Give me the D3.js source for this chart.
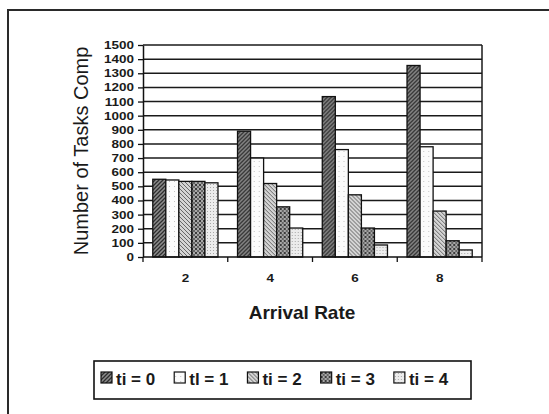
<!DOCTYPE html>
<html><head><meta charset="utf-8">
<script src="https://cdn.jsdelivr.net/npm/d3@7"></script>
<style>
html,body{margin:0;padding:0;background:#fff;overflow:hidden}
svg{display:block;overflow:hidden}
text{font-family:"Liberation Sans",Arial,sans-serif;fill:#1a1a1a}
</style>
</head><body>
<svg id="chart" width="549" height="414"></svg>
<script>
// Tasks completed per arrival rate, one series per ti setting
const categories = ["2", "4", "6", "8"];
const seriesNames = ["ti = 0", "tl = 1", "ti = 2", "ti = 3", "ti = 4"];
const ti0 = [550, 890, 1135, 1355];
const ti1 = [545, 700, 760, 780];
const ti2 = [535, 520, 440, 325];
const ti3 = [535, 355, 205, 115];
const ti4 = [525, 205, 85, 50];
const yTickValues = d3.range(0, 1501, 100);

const seriesValues = [ti0, ti1, ti2, ti3, ti4];
const W = 549, H = 414;
const svg = d3.select("#chart");

// fill patterns for the five series
const defs = svg.append("defs");
function pattern(id, size, base, draw) {
  const p = defs.append("pattern").attr("id", id).attr("patternUnits", "userSpaceOnUse")
    .attr("width", size).attr("height", size);
  p.append("rect").attr("width", size).attr("height", size).attr("fill", base);
  draw(p);
}
pattern("p0", 4, "#8c8c8c", p => {
  p.append("path").attr("d", "M0,4 L4,0 M-1,1 L1,-1 M3,5 L5,3").attr("stroke", "#2e2e2e").attr("stroke-width", 1.3);
});
pattern("p1", 5, "#fbfbfb", p => {
  p.append("rect").attr("x", 1).attr("y", 1).attr("width", 1).attr("height", 1).attr("fill", "#c4c4c4");
});
pattern("p2", 4, "#d4d4d4", p => {
  p.append("path").attr("d", "M0,0 L4,4 M3,-1 L5,1 M-1,3 L1,5").attr("stroke", "#5a5a5a").attr("stroke-width", 0.9);
});
pattern("p3", 4, "#a8a8a8", p => {
  p.append("rect").attr("x", 0).attr("y", 0).attr("width", 2).attr("height", 2).attr("fill", "#3c3c3c");
  p.append("rect").attr("x", 2).attr("y", 2).attr("width", 2).attr("height", 2).attr("fill", "#666");
});
pattern("p4", 3, "#ececec", p => {
  p.append("rect").attr("x", 1).attr("y", 1).attr("width", 1).attr("height", 1).attr("fill", "#a8a8a8");
});
const fills = ["url(#p0)", "url(#p1)", "url(#p2)", "url(#p3)", "url(#p4)"];

// chart frame: only its left and top edges fall inside the page
svg.append("path").attr("d", `M8,${H + 5} V10 H${W + 5}`)
  .attr("fill", "none").attr("stroke", "#2a2a2a").attr("stroke-width", 2);

const plot = { left: 143, right: 482, top: 45, bottom: 257 };

const x = d3.scaleBand().domain(categories).range([plot.left, plot.right]).padding(0);
const xInner = d3.scaleBand().domain(d3.range(seriesNames.length))
  .range([0, x.bandwidth()]).paddingInner(0).paddingOuter(0.75);
const y = d3.scaleLinear().domain([0, 1500]).range([plot.bottom, plot.top]);

// horizontal gridlines
svg.append("g").selectAll("line").data(yTickValues.filter(v => v > 0)).join("line")
  .attr("x1", plot.left).attr("x2", plot.right)
  .attr("y1", d => y(d)).attr("y2", d => y(d))
  .attr("stroke", "#1a1a1a").attr("stroke-width", 1.5);

// right edge of the plot area
svg.append("line").attr("x1", plot.right).attr("x2", plot.right)
  .attr("y1", plot.top).attr("y2", plot.bottom)
  .attr("stroke", "#1a1a1a").attr("stroke-width", 1.5);

// bars
const groups = svg.append("g").selectAll("g").data(categories).join("g")
  .attr("transform", d => `translate(${x(d)},0)`);
groups.selectAll("rect")
  .data((c, ci) => seriesValues.map((vals, si) => ({ si, v: vals[ci] })))
  .join("rect")
  .attr("x", d => xInner(d.si))
  .attr("width", xInner.bandwidth())
  .attr("y", d => y(d.v))
  .attr("height", d => y(0) - y(d.v))
  .attr("fill", d => fills[d.si])
  .attr("stroke", "#111").attr("stroke-width", 1.3);

// y axis
const yAxis = svg.append("g").attr("transform", `translate(${plot.left},0)`)
  .call(d3.axisLeft(y).tickValues(yTickValues).tickSize(5).tickSizeOuter(0).tickFormat(d3.format("d")));
yAxis.select(".domain").attr("stroke", "#111").attr("stroke-width", 1.5);
yAxis.selectAll(".tick line").attr("stroke", "#111").attr("stroke-width", 1.3);
yAxis.selectAll(".tick text")
  .attr("x", null).attr("dy", null)
  .attr("transform", "translate(-9,3.5) scale(1.35,1)")
  .style("font-family", "'Liberation Sans', Arial, sans-serif")
  .style("font-weight", "bold").style("font-size", "10px").attr("fill", "#1a1a1a");

// x axis: ticks on category boundaries, labels centred under each group
const xAxisG = svg.append("g");
xAxisG.append("line").attr("x1", plot.left).attr("x2", plot.right)
  .attr("y1", plot.bottom).attr("y2", plot.bottom).attr("stroke", "#111").attr("stroke-width", 1.5);
const boundaries = categories.map(c => x(c)).concat([plot.right]);
xAxisG.selectAll("line.tk").data(boundaries).join("line").attr("class", "tk")
  .attr("x1", d => d).attr("x2", d => d)
  .attr("y1", plot.bottom).attr("y2", plot.bottom + 5)
  .attr("stroke", "#111").attr("stroke-width", 1.3);
xAxisG.selectAll("text").data(categories).join("text")
  .attr("transform", d => `translate(${x(d) + x.bandwidth() / 2},282) scale(1.35,1)`)
  .attr("text-anchor", "middle").style("font-size", "10px").style("font-weight", "bold")
  .text(d => d);

// axis titles
svg.append("text").attr("x", 302).attr("y", 318.5).attr("text-anchor", "middle")
  .style("font-size", "19px").style("font-weight", "bold").text("Arrival Rate");
svg.append("text").attr("transform", "translate(88,151) rotate(-90)").attr("text-anchor", "middle")
  .style("font-size", "20px").text("Number of Tasks Comp");

// legend
const legendBox = { left: 94, top: 361, right: 471, bottom: 399 };
const legend = svg.append("g");
legend.append("rect").attr("x", legendBox.left).attr("y", legendBox.top)
  .attr("width", legendBox.right - legendBox.left).attr("height", legendBox.bottom - legendBox.top)
  .attr("fill", "#fff").attr("stroke", "#111").attr("stroke-width", 1.6);
const iconSize = 11, iconGap = 4, itemGap = 19, padLeft = 7;
const items = legend.selectAll("g").data(seriesNames).join("g");
items.append("text").attr("x", iconSize + iconGap).attr("y", 385)
  .style("font-size", "17px").style("font-weight", "bold").text(d => d);
const widths = [];
items.each(function () { widths.push(this.querySelector("text").getComputedTextLength() + iconSize + iconGap); });
let cursor = legendBox.left + padLeft;
items.attr("transform", (d, i) => { const t = `translate(${cursor},0)`; cursor += widths[i] + itemGap; return t; });
items.append("rect").attr("x", 0).attr("y", 372).attr("width", iconSize).attr("height", iconSize)
  .attr("fill", (d, i) => fills[i]).attr("stroke", "#111").attr("stroke-width", 1.2);
</script>
</body></html>
